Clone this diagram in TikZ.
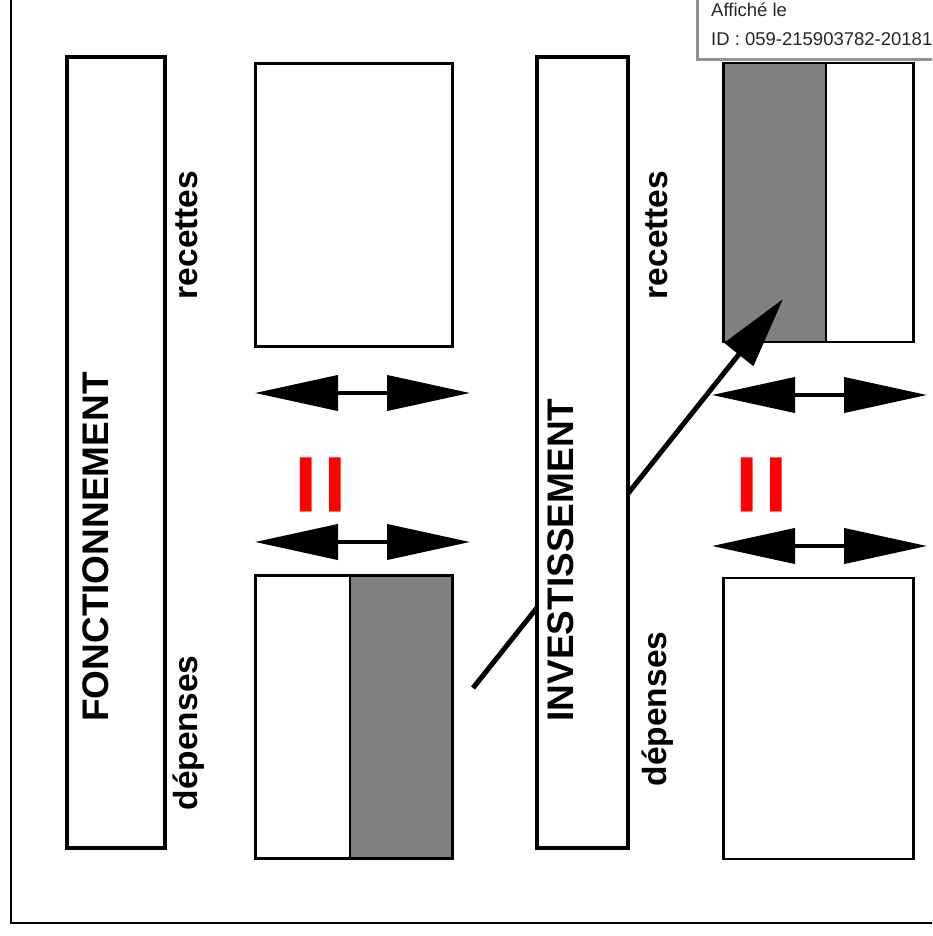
\documentclass[tikz,border=0pt]{standalone}
\usepackage{fontspec}
\setmainfont{Liberation Sans}
\usetikzlibrary{arrows.meta}
\definecolor{midgray}{HTML}{808080}
\definecolor{eqred}{HTML}{FF0000}
\tikzset{
  bigbox/.style={draw, line width=4pt, fill=white, inner sep=0pt},
  smallbox/.style={draw, line width=3pt, inner sep=0pt, minimum width=197pt, minimum height=283pt},
  title/.style={rotate=90, anchor=base, inner sep=0pt, font=\bfseries\fontsize{37}{40}\selectfont},
  side/.style={rotate=90, anchor=base, inner sep=0pt, font=\bfseries\fontsize{33.5}{36}\selectfont},
  equal/.style={rotate=90, inner sep=0pt, text=eqred, font=\bfseries\fontsize{108}{112}\selectfont},
  twoway/.style={line width=4pt, {Triangle[length=83pt,width=35pt]}-{Triangle[length=83pt,width=35pt]}},
  transfer/.style={line width=5pt, -{Triangle[length=71pt,width=36pt]}},
  stamptext/.style={anchor=base west, inner sep=0pt, text=black!85, font=\fontsize{18.5}{20}\selectfont}
}
\begin{document}
\begin{tikzpicture}[x=1pt,y=-1pt]
\useasboundingbox (0,0) rectangle (932,936);
\begin{scope}
\clip (0,0) rectangle (932,936);
% outer frame
\draw[line width=2pt] (11,-20) rectangle (960,923);

% fonctionnement column
\node[bigbox, minimum width=98pt, minimum height=791pt] (fonct) at (116,452.5) {};
\node[title] (fonctlbl) at (108,547) {FONCTIONNEMENT};

% left receipts / expenses blocks
\node[smallbox] (lrec) at (354,205) {};
\fill[midgray] (350,575.5) rectangle (452.5,858.5);
\node[smallbox] (ldep) at (354,717) {};
\draw[line width=2pt] (350,575.5) -- (350,858.5);
\node[side] (lreclbl) at (197,235) {recettes};
\node[side] (ldeplbl) at (197,733) {dépenses};

% balance arrows and equal sign, left
\coordinate (lta) at (255,393);
\coordinate (ltb) at (470,393);
\coordinate (lba) at (255,542);
\coordinate (lbb) at (470,542);
\draw[twoway] (lta) -- (ltb);
\draw[twoway] (lba) -- (lbb);
\node[equal] (leq) at (328.5,485) {=};

% right receipts / expenses blocks
\fill[midgray] (723.5,63) rectangle (826,342);
\node[smallbox, line width=2.5pt, minimum width=190pt, minimum height=279pt] (rrec) at (818.5,202.5) {};
\draw[line width=2pt] (826,63) -- (826,342);
\node[smallbox, line width=2.5pt, minimum width=190pt, minimum height=281pt] (rdep) at (818.5,718.5) {};
\node[side] (rreclbl) at (667,235) {recettes};
\node[side] (rdeplbl) at (666,709) {dépenses};

% transfer from operating surplus to investment receipts
\coordinate (tstart) at (473,688);
\coordinate (tend) at (783,299);
\draw[transfer] (tstart) -- (tend);

% investissement column
\node[bigbox, minimum width=91pt, minimum height=791pt] (invest) at (582.5,452.5) {};
\node[title] (investlbl) at (573,560) {INVESTISSEMENT};

% balance arrows and equal sign, right
\coordinate (rta) at (712,395);
\coordinate (rtb) at (927,395);
\coordinate (rba) at (712,546);
\coordinate (rbb) at (927,546);
\draw[twoway] (rta) -- (rtb);
\draw[twoway] (rba) -- (rbb);
\node[equal] (req) at (769,485) {=};

% posting stamp
\draw[draw=gray!85, line width=3pt, fill=white] (697,-20) rectangle (960,59.5);
\node[stamptext] (stamp1) at (711,17) {Affiché le};
\node[stamptext] (stamp2) at (711,46) {ID : 059-215903782-20181};
\end{scope}
\end{tikzpicture}
\end{document}
